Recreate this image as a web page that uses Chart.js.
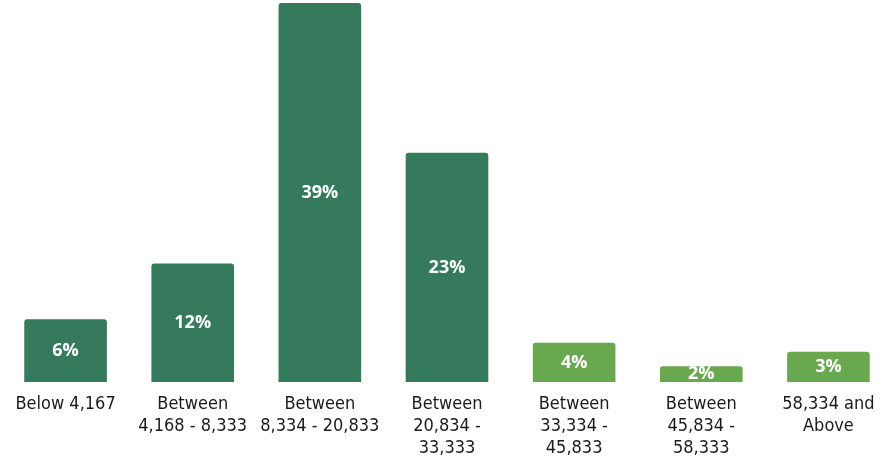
<!DOCTYPE html>
<html>
<head>
<meta charset="utf-8">
<script src="https://cdn.jsdelivr.net/npm/chart.js@4"></script>
<style>
  html, body { margin: 0; padding: 0; background: #fff; overflow: hidden; }
  #wrap { position: absolute; left: 2px; top: 0; width: 890px; height: 459px; }
</style>
</head>
<body>
<div id="wrap"><canvas id="income-bars"></canvas></div>
<script>
// income brackets, share of respondents (%)
const categories = [
  ['Below 4,167'],
  ['Between', '4,168 - 8,333'],
  ['Between', '8,334 - 20,833'],
  ['Between', '20,834 -', '33,333'],
  ['Between', '33,334 -', '45,833'],
  ['Between', '45,834 -', '58,333'],
  ['58,334 and', 'Above']
];
const shares = [6.4, 12.1, 38.7, 23.4, 4.0, 1.6, 3.1];
const barColors = ['#357a5c', '#357a5c', '#357a5c', '#357a5c', '#6aa84f', '#6aa84f', '#6aa84f'];

// white % labels in the middle of each bar
const barLabels = {
  id: 'barLabels',
  afterDatasetsDraw(chart) {
    const ctx = chart.ctx;
    const meta = chart.getDatasetMeta(0);
    ctx.save();
    ctx.fillStyle = '#ffffff';
    ctx.font = "bold 18px 'Open Sans'";
    ctx.textAlign = 'center';
    ctx.textBaseline = 'middle';
    meta.data.forEach(function (bar, i) {
      let y = (bar.y + bar.base) / 2;
      ctx.fillText(Math.round(shares[i]) + '%', bar.x, y);
    });
    ctx.restore();
  }
};

new Chart(document.getElementById('income-bars').getContext('2d'), {
  type: 'bar',
  data: {
    labels: categories,
    datasets: [{
      data: shares,
      backgroundColor: barColors,
      borderRadius: 3,
      borderSkipped: 'start',
      barPercentage: 0.65,
      categoryPercentage: 1
    }]
  },
  options: {
    responsive: true,
    maintainAspectRatio: false,
    animation: false,
    layout: { padding: 0 },
    plugins: {
      legend: { display: false },
      tooltip: { enabled: false }
    },
    scales: {
      y: {
        display: false,
        min: 0,
        max: 39
      },
      x: {
        grid: { display: false, drawTicks: false },
        border: { display: false },
        ticks: {
          autoSkip: false,
          maxRotation: 0,
          padding: 11,
          color: '#1a1a1a',
          font: { family: "'DejaVu Sans Condensed', 'DejaVu Sans'", size: 18, lineHeight: 1.22 }
        },
        afterFit: function (scale) { scale.height = 77; }
      }
    }
  },
  plugins: [barLabels]
});
</script>
</body>
</html>
